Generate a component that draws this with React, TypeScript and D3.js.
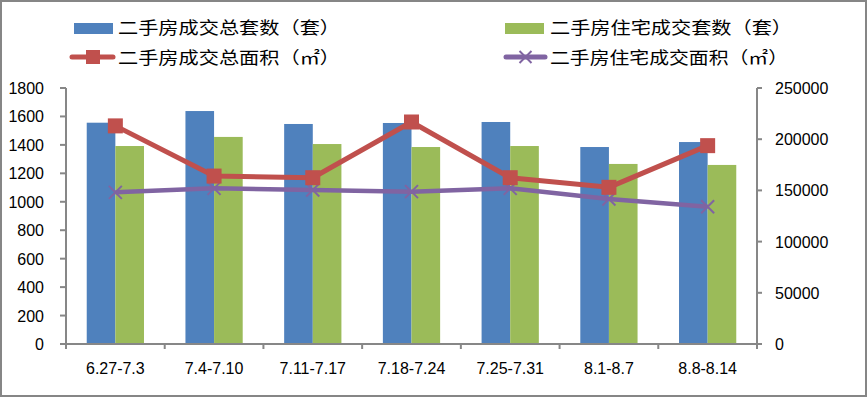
import React from 'react'
import * as d3 from 'd3'

const categories = ['6.27-7.3', '7.4-7.10', '7.11-7.17', '7.18-7.24', '7.25-7.31', '8.1-8.7', '8.8-8.14']
const totalUnits = [1556, 1638, 1547, 1554, 1561, 1385, 1420]
const residentialUnits = [1392, 1456, 1406, 1385, 1392, 1266, 1259]
const totalArea = [213000, 164000, 162400, 216800, 162400, 153000, 193700]
const residentialArea = [148100, 152000, 150400, 148800, 152000, 141600, 134100]
const leftTicks = [0, 200, 400, 600, 800, 1000, 1200, 1400, 1600, 1800]
const rightTicks = [0, 50000, 100000, 150000, 200000, 250000]
const seriesNames = ['二手房成交总套数（套）', '二手房住宅成交套数（套）', '二手房成交总面积（㎡）', '二手房住宅成交面积（㎡）']

const W = 868
const H = 398
const plot = { left: 66, right: 757, top: 88, bottom: 344 }
const axisColor = '#878787'
const colors = { blue: '#4F81BD', green: '#9BBB59', red: '#C0504D', purple: '#8064A2' }
const numFont = '"Liberation Sans", Arial, sans-serif'
const cjkFont = '"Noto Sans CJK SC", sans-serif'

const x = d3.scaleBand<string>().domain(categories).range([plot.left, plot.right]).paddingInner(0.42).paddingOuter(0.21)
const sub = d3.scaleBand<number>().domain([0, 1]).range([0, x.bandwidth()])
const yLeft = d3.scaleLinear().domain([0, 1800]).range([plot.bottom, plot.top])
const yRight = d3.scaleLinear().domain([0, 250000]).range([plot.bottom, plot.top])
const cx = (c: string) => (x(c) ?? 0) + x.bandwidth() / 2

const lineGen = d3.line<number>()
  .x((_, i) => cx(categories[i]))
  .y(d => yRight(d))

const Cross: React.FC<{ px: number; py: number; s?: number }> = ({ px, py, s = 6.5 }) => (
  <path d={`M${px - s},${py - s}L${px + s},${py + s}M${px - s},${py + s}L${px + s},${py - s}`}
    stroke={colors.purple} strokeWidth={2} fill="none" />
)

export default function App() {
  const step = x.step()
  const boundaries = d3.range(categories.length + 1).map(i => plot.left + i * step)

  return (
    <div style={{ position: 'absolute', left: 0, top: 0 }}>
      <svg width={W} height={H} style={{ display: 'block', background: '#fff' }}>
        <rect x={1} y={1} width={W - 3} height={H - 3} fill="#fff" stroke="#868686" strokeWidth={2} />

        {/* legend */}
        <g fontFamily={cjkFont} fontSize={17} fill="#000">
          <rect x={74} y={23} width={39} height={11} fill={colors.blue} />
          <text x={118} y={34} textLength={222} lengthAdjust="spacingAndGlyphs">{seriesNames[0]}</text>
          <rect x={505} y={23} width={39} height={11} fill={colors.green} />
          <text x={550} y={34} textLength={242} lengthAdjust="spacingAndGlyphs">{seriesNames[1]}</text>

          <line x1={72} x2={113} y1={57} y2={57} stroke={colors.red} strokeWidth={5} strokeLinecap="round" />
          <rect x={86} y={50} width={14} height={14} fill={colors.red} />
          <text x={118} y={64} textLength={222} lengthAdjust="spacingAndGlyphs">{seriesNames[2]}</text>

          <line x1={506} x2={545} y1={57} y2={57} stroke={colors.purple} strokeWidth={5} strokeLinecap="round" />
          <Cross px={525.5} py={57} s={6} />
          <text x={550} y={64} textLength={238} lengthAdjust="spacingAndGlyphs">{seriesNames[3]}</text>
        </g>

        {/* bars */}
        {categories.map((c, i) => (
          <g key={c}>
            <rect x={(x(c) ?? 0) + (sub(0) ?? 0)} y={yLeft(totalUnits[i])} width={sub.bandwidth()}
              height={plot.bottom - yLeft(totalUnits[i])} fill={colors.blue} />
            <rect x={(x(c) ?? 0) + (sub(1) ?? 0)} y={yLeft(residentialUnits[i])} width={sub.bandwidth()}
              height={plot.bottom - yLeft(residentialUnits[i])} fill={colors.green} />
          </g>
        ))}

        {/* axes */}
        <g stroke={axisColor} strokeWidth={2}>
          <line x1={plot.left} x2={plot.left} y1={plot.top} y2={plot.bottom} />
          <line x1={plot.right} x2={plot.right} y1={plot.top} y2={plot.bottom} />
          <line x1={plot.left} x2={plot.right} y1={plot.bottom} y2={plot.bottom} />
          {leftTicks.map(t => (
            <line key={'lt' + t} x1={plot.left - 6} x2={plot.left} y1={yLeft(t)} y2={yLeft(t)} />
          ))}
          {rightTicks.map(t => (
            <line key={'rt' + t} x1={plot.right} x2={plot.right + 5} y1={yRight(t)} y2={yRight(t)} />
          ))}
          {boundaries.map(b => (
            <line key={'bt' + b} x1={b} x2={b} y1={plot.bottom} y2={plot.bottom + 5} />
          ))}
        </g>

        <g fontFamily={numFont} fontSize={16} fill="#000">
          {leftTicks.map(t => (
            <text key={'ll' + t} x={44} y={yLeft(t) + 6} textAnchor="end">{t}</text>
          ))}
          {rightTicks.map(t => (
            <text key={'rl' + t} x={775} y={yRight(t) + 6}>{t}</text>
          ))}
          {categories.map(c => (
            <text key={'cl' + c} x={cx(c)} y={374} textAnchor="middle">{c}</text>
          ))}
        </g>

        {/* lines */}
        <path d={lineGen(residentialArea) ?? ''} fill="none" stroke={colors.purple} strokeWidth={4.5} strokeLinejoin="round" />
        {residentialArea.map((v, i) => (
          <Cross key={'pm' + i} px={cx(categories[i])} py={yRight(v)} />
        ))}
        <path d={lineGen(totalArea) ?? ''} fill="none" stroke={colors.red} strokeWidth={5} strokeLinejoin="round" />
        {totalArea.map((v, i) => (
          <rect key={'rm' + i} x={cx(categories[i]) - 7.5} y={yRight(v) - 7.5} width={15} height={15} fill={colors.red} />
        ))}
      </svg>
    </div>
  )
}
